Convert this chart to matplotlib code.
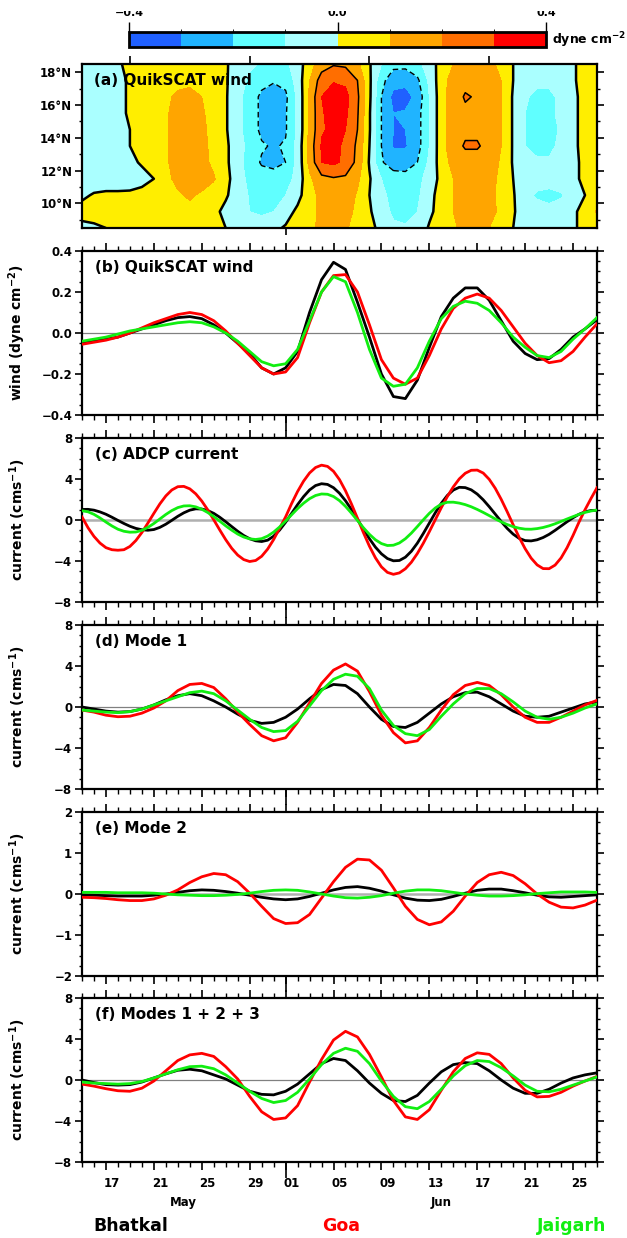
"""QuikSCAT wind / ADCP current / modal currents at Bhatkal, Goa and Jaigarh."""

import matplotlib
matplotlib.use("Agg")
import matplotlib.pyplot as plt
import matplotlib.transforms as mtransforms
from matplotlib.colors import ListedColormap, BoundaryNorm
from matplotlib.ticker import MultipleLocator, FuncFormatter
import numpy as np

plt.rcParams.update({
    "font.family": ["DejaVu Sans"],
    "font.weight": "bold",
    "axes.labelweight": "bold",
    "axes.linewidth": 1.6,
    "mathtext.fontset": "dejavusans",
    "mathtext.default": "bf",
})

W, H = 627, 1238
RED = "#ff0000"
GREEN = "#11ee11"

# ─── data ─────────────────────────────────────────────────────────────────────
# day 0 = 15 May, day 43 = 27 Jun
DAYS = np.arange(44)                 # daily samples
DAYS_HALF = np.arange(0, 43.5, 0.5)  # half-daily samples (ADCP)
MAJOR_DAYS = [2, 6, 10, 14, 17, 21, 25, 29, 33, 37, 41]
DAY_LABELS = ["17", "21", "25", "29", "01", "05", "09", "13", "17", "21", "25"]
MONTHS = [("May", 8.5), ("Jun", 30.0)]
JUN1 = 17

# (a) Hovmoller of wind stress, one row per latitude
LATS = [8.5, 9.5, 10.5, 11.5, 12.5, 13.5, 14.5, 15.5, 16.5, 17.5, 18.5]
tau_085 = [-0.03, -0.02, 0.0, 0.02, 0.04, 0.05, 0.06, 0.06, 0.06, 0.05, 0.04, 0.02, 0.0, -0.02, -0.04,
           -0.04, -0.02, 0.01, 0.04, 0.08, 0.12, 0.13, 0.11, 0.07, 0.02, -0.02, -0.08, -0.09, -0.06, 0.01,
           0.05, 0.09, 0.12, 0.12, 0.1, 0.05, 0.0, -0.03, -0.05, -0.05, -0.03, -0.01, 0.02, 0.05]
tau_095 = [0.04, 0.05, 0.05, 0.05, 0.05, 0.06, 0.07, 0.08, 0.08, 0.08, 0.06, 0.02, -0.02, -0.05, -0.1,
           -0.12, -0.1, -0.04, 0.02, 0.07, 0.12, 0.14, 0.13, 0.08, 0.01, -0.05, -0.12, -0.13, -0.1, -0.02,
           0.04, 0.1, 0.13, 0.14, 0.13, 0.08, 0.01, -0.05, -0.07, -0.08, -0.06, -0.02, 0.04, 0.11]
tau_105 = [-0.02, 0.01, 0.02, 0.02, 0.02, 0.03, 0.05, 0.07, 0.09, 0.11, 0.09, 0.05, 0.01, -0.04, -0.11,
           -0.14, -0.14, -0.1, -0.03, 0.06, 0.13, 0.16, 0.15, 0.09, 0.0, -0.07, -0.14, -0.15, -0.12, -0.03,
           0.04, 0.1, 0.13, 0.13, 0.12, 0.08, 0.01, -0.08, -0.11, -0.12, -0.11, -0.05, 0.0, 0.04]
tau_115 = [-0.05, -0.06, -0.06, -0.06, -0.05, -0.03, 0.0, 0.08, 0.12, 0.13, 0.13, 0.11, 0.03, -0.05, -0.13,
           -0.16, -0.17, -0.15, -0.06, 0.08, 0.17, 0.19, 0.18, 0.12, 0.01, -0.1, -0.15, -0.16, -0.13, -0.06,
           0.03, 0.1, 0.13, 0.14, 0.13, 0.08, 0.0, -0.05, -0.07, -0.07, -0.05, -0.02, 0.02, 0.04]
tau_125 = [-0.05, -0.05, -0.05, -0.04, -0.02, 0.01, 0.05, 0.09, 0.13, 0.14, 0.13, 0.08, 0.02, -0.06, -0.15,
           -0.21, -0.22, -0.2, -0.07, 0.13, 0.3, 0.32, 0.28, 0.17, -0.01, -0.19, -0.25, -0.25, -0.2, -0.08,
           0.05, 0.13, 0.16, 0.16, 0.14, 0.09, -0.01, -0.07, -0.09, -0.09, -0.07, -0.02, 0.02, 0.05]
tau_135 = [-0.05, -0.05, -0.04, -0.03, 0.0, 0.03, 0.06, 0.09, 0.13, 0.14, 0.12, 0.08, 0.02, -0.06, -0.13,
           -0.19, -0.21, -0.19, -0.07, 0.14, 0.31, 0.33, 0.28, 0.18, 0.0, -0.2, -0.31, -0.31, -0.24, -0.1,
           0.06, 0.16, 0.21, 0.21, 0.17, 0.1, -0.01, -0.1, -0.12, -0.12, -0.08, -0.02, 0.03, 0.05]
tau_145 = [-0.05, -0.05, -0.04, -0.03, 0.0, 0.03, 0.07, 0.09, 0.14, 0.14, 0.12, 0.07, 0.01, -0.07, -0.15,
           -0.22, -0.24, -0.21, -0.08, 0.12, 0.29, 0.32, 0.3, 0.2, 0.01, -0.2, -0.3, -0.3, -0.24, -0.1,
           0.06, 0.15, 0.18, 0.18, 0.16, 0.1, -0.01, -0.1, -0.13, -0.13, -0.09, -0.02, 0.03, 0.05]
tau_155 = [-0.05, -0.05, -0.04, -0.02, 0.01, 0.04, 0.07, 0.09, 0.13, 0.13, 0.11, 0.07, 0.01, -0.07, -0.15,
           -0.22, -0.24, -0.21, -0.08, 0.12, 0.29, 0.34, 0.32, 0.21, 0.01, -0.2, -0.3, -0.29, -0.24, -0.1,
           0.06, 0.15, 0.18, 0.18, 0.16, 0.1, -0.01, -0.1, -0.13, -0.12, -0.08, -0.02, 0.03, 0.05]
tau_165 = [-0.05, -0.05, -0.04, -0.02, 0.01, 0.04, 0.07, 0.09, 0.11, 0.12, 0.1, 0.07, 0.01, -0.07, -0.15,
           -0.22, -0.25, -0.22, -0.08, 0.12, 0.3, 0.36, 0.33, 0.22, 0.02, -0.2, -0.33, -0.34, -0.27, -0.1,
           0.06, 0.15, 0.21, 0.19, 0.16, 0.1, -0.01, -0.09, -0.12, -0.12, -0.08, -0.02, 0.03, 0.05]
tau_175 = [-0.05, -0.05, -0.04, -0.02, 0.01, 0.04, 0.07, 0.08, 0.085, 0.085, 0.08, 0.06, 0.01, -0.05, -0.12,
           -0.17, -0.19, -0.17, -0.06, 0.1, 0.25, 0.29, 0.28, 0.2, 0.02, -0.17, -0.26, -0.27, -0.22, -0.08,
           0.06, 0.14, 0.17, 0.18, 0.16, 0.1, 0.0, -0.06, -0.08, -0.08, -0.06, -0.01, 0.03, 0.05]
tau_185 = [-0.04, -0.04, -0.03, -0.01, 0.02, 0.05, 0.07, 0.08, 0.09, 0.09, 0.08, 0.05, 0.01, -0.04, -0.08,
           -0.11, -0.13, -0.12, -0.05, 0.06, 0.15, 0.19, 0.18, 0.12, 0.01, -0.1, -0.17, -0.17, -0.13, -0.05,
           0.04, 0.1, 0.13, 0.14, 0.12, 0.08, 0.0, -0.05, -0.07, -0.07, -0.05, -0.01, 0.03, 0.05]

TAU_LEVELS = [-0.4, -0.3, -0.2, -0.1, 0.0, 0.1, 0.2, 0.3, 0.4]
TAU_COLORS = ["#2060ff", "#20b4ff", "#60ffff", "#aaffff",
              "#ffee00", "#ffa500", "#ff6e00", "#ff0000"]

# (b) QuikSCAT wind stress (dyne cm-2), daily
wind_bhatkal = [-0.045, -0.04, -0.03, -0.02, 0.0, 0.02, 0.04, 0.06, 0.075, 0.08, 0.07, 0.04, 0.0, -0.05,
                -0.10, -0.17, -0.20, -0.17, -0.09, 0.10, 0.26, 0.345, 0.31, 0.15, -0.02, -0.20, -0.31,
                -0.32, -0.23, -0.07, 0.08, 0.17, 0.22, 0.22, 0.16, 0.06, -0.04, -0.10, -0.13, -0.125,
                -0.08, -0.02, 0.02, 0.065]
wind_goa = [-0.055, -0.045, -0.035, -0.02, 0.0, 0.025, 0.05, 0.07, 0.09, 0.10, 0.09, 0.06, 0.01, -0.05,
            -0.11, -0.17, -0.20, -0.19, -0.12, 0.05, 0.20, 0.28, 0.285, 0.20, 0.04, -0.13, -0.22, -0.25,
            -0.22, -0.11, 0.02, 0.12, 0.17, 0.19, 0.17, 0.11, 0.03, -0.05, -0.11, -0.145, -0.135, -0.09,
            -0.02, 0.045]
wind_jaigarh = [-0.04, -0.03, -0.02, -0.005, 0.01, 0.02, 0.03, 0.04, 0.05, 0.055, 0.05, 0.03, 0.0, -0.04,
                -0.09, -0.14, -0.16, -0.15, -0.08, 0.06, 0.20, 0.275, 0.25, 0.10, -0.08, -0.22, -0.26,
                -0.25, -0.17, -0.04, 0.07, 0.13, 0.155, 0.145, 0.11, 0.05, -0.02, -0.07, -0.11, -0.12,
                -0.09, -0.03, 0.02, 0.075]

# (c) ADCP current (cm s-1), half-daily
adcp_bhatkal = [1.03, 1.04, 0.96, 0.79, 0.56, 0.27, -0.04, -0.34, -0.61, -0.82,
                -0.95, -1.0, -0.93, -0.72, -0.41, -0.03, 0.36, 0.70, 0.96, 1.09,
                1.07, 0.92, 0.65, 0.27, -0.17, -0.64, -1.10, -1.51, -1.83, -2.03,
                -2.1, -1.97, -1.58, -0.98, -0.22, 0.64, 1.50, 2.28, 2.93, 3.36,
                3.54, 3.47, 3.15, 2.61, 1.88, 1.02, 0.07, -0.90, -1.83, -2.65,
                -3.30, -3.76, -3.98, -3.95, -3.63, -3.05, -2.26, -1.31, -0.30, 0.71,
                1.63, 2.39, 2.92, 3.19, 3.16, 2.94, 2.53, 1.97, 1.30, 0.58,
                -0.15, -0.82, -1.38, -1.79, -2.01, -2.04, -1.93, -1.71, -1.40, -1.01,
                -0.59, -0.17, 0.22, 0.56, 0.80, 0.93, 0.95]
adcp_goa = [0.3, -0.75, -1.6, -2.25, -2.7, -2.9, -2.95, -2.9, -2.58, -2.0,
            -1.22, -0.3, 0.65, 1.57, 2.35, 2.93, 3.25, 3.28, 3.04, 2.55,
            1.85, 0.99, 0.02, -0.97, -1.92, -2.76, -3.42, -3.86, -4.05, -3.95,
            -3.54, -2.84, -1.91, -0.8, 0.3, 1.6, 2.78, 3.79, 4.59, 5.12,
            5.35, 5.23, 4.75, 3.94, 2.85, 1.56, 0.17, -1.24, -2.56, -3.69,
            -4.57, -5.11, -5.3, -5.16, -4.76, -4.12, -3.27, -2.26, -1.14, 0.03,
            1.2, 2.28, 3.23, 4.01, 4.56, 4.85, 4.87, 4.58, 3.97, 3.1,
            2.02, 0.81, -0.46, -1.69, -2.8, -3.72, -4.38, -4.74, -4.75, -4.4,
            -3.7, -2.7, -1.5, -0.2, 1.0, 2.1, 3.15]
adcp_jaigarh = [0.9, 0.8, 0.55, 0.2, -0.2, -0.58, -0.9, -1.1, -1.19, -1.17,
                -1.01, -0.72, -0.34, 0.10, 0.54, 0.92, 1.21, 1.37, 1.39, 1.28,
                1.05, 0.73, 0.33, -0.11, -0.57, -0.99, -1.37, -1.66, -1.84, -1.9,
                -1.82, -1.57, -1.18, -0.68, -0.10, 0.51, 1.11, 1.64, 2.08, 2.39,
                2.54, 2.51, 2.29, 1.89, 1.33, 0.67, -0.05, -0.76, -1.40, -1.93,
                -2.30, -2.49, -2.46, -2.24, -1.83, -1.28, -0.64, 0.02, 0.65, 1.17,
                1.55, 1.73, 1.74, 1.65, 1.50, 1.29, 1.03, 0.74, 0.43, 0.11,
                -0.18, -0.44, -0.65, -0.80, -0.89, -0.90, -0.84, -0.73, -0.57, -0.37,
                -0.14, 0.10, 0.33, 0.55, 0.74, 0.88, 0.97]

# (d) Mode 1, daily
mode1_bhatkal = [0.0, -0.2, -0.4, -0.5, -0.45, -0.2, 0.2, 0.7, 1.1, 1.3, 1.1, 0.6, 0.0, -0.7, -1.3, -1.6,
                 -1.5, -1.0, -0.2, 0.8, 1.7, 2.2, 2.1, 1.3, 0.0, -1.2, -1.9, -2.0, -1.5, -0.6, 0.3, 1.0,
                 1.4, 1.45, 1.0, 0.3, -0.4, -0.9, -1.0, -0.9, -0.5, -0.1, 0.3, 0.5]
mode1_goa = [-0.3, -0.5, -0.8, -0.95, -0.9, -0.6, -0.1, 0.6, 1.6, 2.2, 2.3, 1.9, 0.8, -0.5, -1.7, -2.8,
             -3.3, -3.0, -1.5, 0.4, 2.3, 3.6, 4.2, 3.5, 1.5, -0.8, -2.5, -3.5, -3.3, -2.0, -0.3, 1.2, 2.1,
             2.4, 2.1, 1.2, 0.0, -1.0, -1.5, -1.5, -1.0, -0.4, 0.2, 0.65]
mode1_jaigarh = [-0.3, -0.4, -0.5, -0.55, -0.45, -0.2, 0.2, 0.6, 1.0, 1.4, 1.55, 1.3, 0.6, -0.3, -1.2,
                 -2.0, -2.4, -2.3, -1.4, 0.1, 1.6, 2.7, 3.2, 3.0, 1.8, -0.3, -1.8, -2.6, -2.8, -2.2, -0.9,
                 0.3, 1.3, 1.8, 1.8, 1.3, 0.5, -0.4, -1.0, -1.2, -1.0, -0.6, -0.1, 0.3]

# (e) Mode 2, daily
mode2_bhatkal = [-0.02, -0.03, -0.04, -0.05, -0.05, -0.05, -0.03, 0.0, 0.04, 0.08, 0.1, 0.09, 0.06, 0.02,
                 -0.03, -0.08, -0.12, -0.14, -0.12, -0.06, 0.02, 0.1, 0.16, 0.18, 0.14, 0.07, -0.02, -0.1,
                 -0.15, -0.16, -0.13, -0.06, 0.02, 0.09, 0.12, 0.12, 0.08, 0.03, -0.03, -0.07, -0.08,
                 -0.06, -0.04, -0.02]
mode2_goa = [-0.08, -0.09, -0.11, -0.14, -0.16, -0.16, -0.12, -0.03, 0.1, 0.28, 0.42, 0.5, 0.47, 0.3,
             0.02, -0.3, -0.6, -0.72, -0.7, -0.5, -0.1, 0.3, 0.65, 0.85, 0.83, 0.58, 0.15, -0.3, -0.62,
             -0.75, -0.68, -0.42, -0.05, 0.28, 0.47, 0.53, 0.45, 0.25, 0.0, -0.2, -0.32, -0.34, -0.27,
             -0.15]
mode2_jaigarh = [0.04, 0.04, 0.04, 0.03, 0.03, 0.03, 0.02, 0.0, -0.02, -0.03, -0.04, -0.04, -0.03, -0.01,
                 0.02, 0.06, 0.09, 0.1, 0.09, 0.05, 0.0, -0.05, -0.09, -0.1, -0.08, -0.04, 0.02, 0.07,
                 0.1, 0.1, 0.08, 0.04, 0.0, -0.03, -0.05, -0.05, -0.04, -0.02, 0.01, 0.03, 0.05, 0.05,
                 0.05, 0.04]

# (f) Modes 1 + 2 + 3, daily
modes_bhatkal = [0.0, -0.25, -0.45, -0.5, -0.45, -0.2, 0.2, 0.6, 0.95, 1.05, 0.9, 0.5, 0.1, -0.5, -1.1,
                 -1.4, -1.45, -1.1, -0.4, 0.6, 1.6, 2.1, 1.9, 0.9, -0.3, -1.3, -2.0, -2.1, -1.5, -0.3, 0.8,
                 1.5, 1.7, 1.6, 0.9, 0.0, -0.8, -1.3, -1.3, -0.9, -0.3, 0.2, 0.5, 0.7]
modes_goa = [-0.4, -0.6, -0.85, -1.05, -1.1, -0.8, -0.1, 0.9, 1.9, 2.45, 2.6, 2.3, 1.3, 0.1, -1.6, -3.1,
             -3.85, -3.7, -2.5, -0.2, 2.0, 3.9, 4.75, 4.2, 2.5, 0.3, -2.0, -3.6, -3.85, -2.9, -1.0, 0.8,
             2.1, 2.65, 2.5, 1.6, 0.2, -1.0, -1.65, -1.6, -1.2, -0.6, -0.1, 0.35]
modes_jaigarh = [-0.2, -0.3, -0.35, -0.4, -0.35, -0.15, 0.2, 0.6, 1.0, 1.3, 1.35, 1.1, 0.5, -0.3, -1.1,
                 -1.8, -2.2, -2.0, -1.2, 0.1, 1.5, 2.6, 3.1, 2.8, 1.6, -0.1, -1.6, -2.6, -2.8, -2.1, -0.9,
                 0.4, 1.4, 1.9, 1.8, 1.2, 0.4, -0.5, -1.1, -1.15, -0.9, -0.5, -0.1, 0.3]

STATIONS = [("Bhatkal", "black", 131), ("Goa", RED, 341), ("Jaigarh", GREEN, 572)]


# ─── layout helpers ──────────────────────────────────────────────────────────
fig = plt.figure(figsize=(W / 100, H / 100), dpi=100)


def add_panel(top, height=164, left=82, right=597):
    return fig.add_axes([left / W, 1 - (top + height) / H, (right - left) / W, height / H])


def minus_fmt(fmt):
    return FuncFormatter(lambda v, _: (fmt % v).replace("-", "\u2212"))


def jun1_tick(ax, length):
    trans = mtransforms.blended_transform_factory(ax.transData, ax.transAxes)
    ax.plot([JUN1, JUN1], [0, -length], transform=trans, color="black",
            lw=1.2, clip_on=False, solid_capstyle="butt")


def line_panel(ax, x, series, ylim, major, fmt, ylabel, title, zero_style, last=False):
    ax.axhline(0, zorder=1, **zero_style)
    for values, colour in zip(series, ("black", RED, GREEN)):
        ax.plot(x, values, color=colour, lw=2.0, zorder=3)
    ax.set_xlim(0, 43)
    ax.set_ylim(*ylim)
    ax.set_xticks(MAJOR_DAYS)
    ax.set_xticks(DAYS, minor=True)
    ax.yaxis.set_major_locator(MultipleLocator(major))
    ax.yaxis.set_minor_locator(MultipleLocator(major / 4))
    ax.yaxis.set_major_formatter(minus_fmt(fmt))
    ax.tick_params(which="both", direction="out", top=True, right=True,
                   labelbottom=False, color="black")
    ax.tick_params(axis="x", which="major", length=6, width=1.2)
    ax.tick_params(axis="x", which="minor", length=3.5, width=1.0)
    ax.tick_params(axis="y", which="major", length=5, width=1.2, labelsize=8.5, pad=2)
    ax.tick_params(axis="y", which="minor", length=2.5, width=1.0)
    ax.set_ylabel(ylabel, fontsize=10)
    ax.yaxis.set_label_coords(-0.105, 0.5)
    ax.text(0.026, 0.872, title, transform=ax.transAxes, fontsize=11, va="baseline")
    jun1_tick(ax, 0.1)
    if last:
        trans = mtransforms.blended_transform_factory(ax.transData, ax.transAxes)
        for d, lab in zip(MAJOR_DAYS, DAY_LABELS):
            ax.text(d + 0.5, -0.134, lab, transform=trans, ha="center", va="center", fontsize=8.5)
        for name, d in MONTHS:
            ax.text(d, -0.245, name, transform=trans, ha="center", va="center", fontsize=8.5)


# ─── (a) Hovmoller ───────────────────────────────────────────────────────────
tau = np.array([tau_085, tau_095, tau_105, tau_115, tau_125, tau_135,
                tau_145, tau_155, tau_165, tau_175, tau_185])
cmap = ListedColormap(TAU_COLORS)
norm = BoundaryNorm(TAU_LEVELS, cmap.N)

ax_a = add_panel(64)
cf = ax_a.contourf(DAYS, LATS, tau, levels=TAU_LEVELS, cmap=cmap, norm=norm)
ax_a.contour(DAYS, LATS, tau, levels=[-0.2], colors="black", linewidths=1.0,
             linestyles=[(0, (4, 2.5))])
ax_a.contour(DAYS, LATS, tau, levels=[0.0], colors="black", linewidths=1.8)
ax_a.contour(DAYS, LATS, tau, levels=[0.2], colors="black", linewidths=1.1)
ax_a.set_xlim(0, 43)
ax_a.set_ylim(8.5, 18.5)
ax_a.set_xticks([4, 14, 24, 34])
ax_a.set_yticks([10, 12, 14, 16, 18])
ax_a.set_yticks([9, 11, 13, 15, 17], minor=True)
ax_a.set_yticklabels([f"{v}°N" for v in (10, 12, 14, 16, 18)])
ax_a.tick_params(which="both", direction="out", right=True, top=True, bottom=False,
                 labelbottom=False, color="black")
ax_a.tick_params(axis="x", length=6, width=1.2)
ax_a.tick_params(axis="y", which="major", length=5, width=1.2, labelsize=8.5, pad=2)
ax_a.tick_params(axis="y", which="minor", length=2.5, width=1.0)
ax_a.text(0.024, 0.872, "(a) QuikSCAT wind", transform=ax_a.transAxes, fontsize=11, va="baseline")
jun1_tick(ax_a, 0.045)

# colour bar on top (its labels are cut by the top edge, as in the original)
cax = fig.add_axes([129 / W, 1 - 47 / H, 417 / W, 15 / H])
cb = fig.colorbar(cf, cax=cax, orientation="horizontal", ticks=[-0.4, 0.0, 0.4])
cb.outline.set_linewidth(2.0)
cax.xaxis.set_ticks_position("top")
cax.tick_params(length=7, width=1.0, labeltop=False, labelbottom=False)
clip = mtransforms.Bbox.from_extents(0, 0, W, H - 10.5)
for v, lab in zip([-0.4, 0.0, 0.4], ["\u22120.4", "0.0", "0.4"]):
    x = (129 + (v + 0.4) / 0.8 * 417) / W
    t = fig.text(x, 1 - 16 / H, lab, ha="center", va="baseline", fontsize=8)
    t.set_clip_box(clip)
    t.set_clip_on(True)
fig.text(552 / W, 1 - 40 / H, "dyne cm$^{-2}$", va="center", fontsize=9)

# ─── (b)–(f) line panels ─────────────────────────────────────────────────────
thin_zero = dict(color="#808080", lw=0.9)
wide_zero = dict(color="#b0b0b0", lw=1.8)

line_panel(add_panel(251), DAYS, (wind_bhatkal, wind_goa, wind_jaigarh), (-0.4, 0.4), 0.2, "%.1f",
           "wind (dyne cm$^{-2}$)", "(b) QuikSCAT wind", thin_zero)
line_panel(add_panel(438), DAYS_HALF, (adcp_bhatkal, adcp_goa, adcp_jaigarh), (-8, 8), 4, "%g",
           "current (cms$^{-1}$)", "(c) ADCP current", wide_zero)
line_panel(add_panel(625), DAYS, (mode1_bhatkal, mode1_goa, mode1_jaigarh), (-8, 8), 4, "%g",
           "current (cms$^{-1}$)", "(d) Mode 1", thin_zero)
line_panel(add_panel(812), DAYS, (mode2_bhatkal, mode2_goa, mode2_jaigarh), (-2, 2), 1, "%g",
           "current (cms$^{-1}$)", "(e) Mode 2", wide_zero)
line_panel(add_panel(998), DAYS, (modes_bhatkal, modes_goa, modes_jaigarh), (-8, 8), 4, "%g",
           "current (cms$^{-1}$)", "(f) Modes 1 + 2 + 3", thin_zero, last=True)

for name, colour, xc in STATIONS:
    fig.text(xc / W, 1 - 1226 / H, name, color=colour, ha="center", va="center", fontsize=12.5)

fig.savefig("out.png", dpi=100)
